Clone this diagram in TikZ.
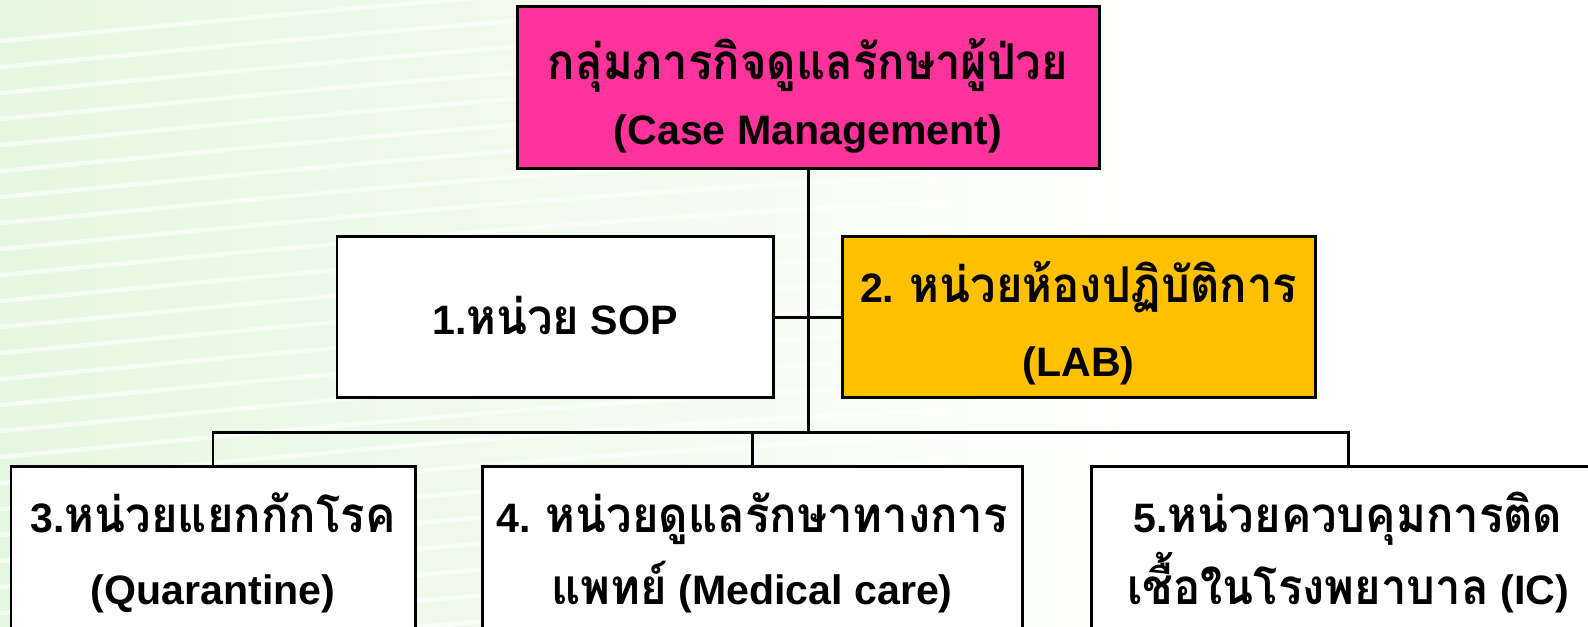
\documentclass[tikz,border=0pt]{standalone}
\usepackage{fontspec}
\setmainfont{Liberation Sans}
\newfontfamily\thai[Script=Thai,Scale=1.2,FakeStretch=0.92]{Loma}
\usepackage{tikz}
\usetikzlibrary{positioning}
\definecolor{casepink}{HTML}{FF3399}
\definecolor{labgold}{HTML}{FFC000}
\definecolor{bgA}{HTML}{D3F2CB}
\definecolor{bgB}{HTML}{E9F8E4}
\pgfdeclarehorizontalshading{bgshade}{100bp}{color(0bp)=(bgA); color(30bp)=(bgB); color(62bp)=(white); color(100bp)=(white)}
\newcommand\unitfont{\fontsize{11.7}{14}\selectfont\bfseries\lineskiplimit -50pt\relax}

\begin{document}
\begin{tikzpicture}[thick,
  unit/.style={draw=black, line width=0.85pt, align=center, inner sep=0pt, font=\unitfont},
  link/.style={draw=black, line width=0.85pt},
  streak/.style={white, line width=1.3pt, opacity=0.6}]
\useasboundingbox (0,0) rectangle (15.88,6.27);
\clip (0,0) rectangle (15.88,6.27);
%%%%% Background %%%%%
\shade[shading=bgshade] (0,0) rectangle (15.88,6.27);
\foreach \k in {0,...,24}{
\draw[streak] (-0.2,0.26*\k-0.4) .. controls (3,0.26*\k-0.1) and (6,0.26*\k+0.2) .. (9.5,0.26*\k+0.35);
}
%%%%% Boxes %%%%%
\node[unit, fill=casepink, minimum width=5.82cm, text height=1.38cm, text depth=0.24cm] (case) at (8.08,5.39)
  {{\thai กลุ่มภารกิจดูแลรักษาผู้ป่วย}\\[4.5pt] (Case Management)};
\node[unit, fill=white, minimum width=4.36cm, text height=0.98cm, text depth=0.63cm] (sop) at (5.55,3.095)
  {1.{\thai หน่วย} SOP};
\node[unit, fill=labgold, minimum width=4.73cm, text height=1.40cm, text depth=0.21cm] (lab) at (10.785,3.095)
  {2. {\thai หน่วยห้องปฏิบัติการ}\\[7.3pt] (LAB)};
\node[unit, fill=white, minimum width=4.04cm, text height=1.38cm, text depth=0.32cm] (quar) at (2.13,0.75)
  {3.{\thai หน่วยแยกกักโรค}\\[6.5pt] (Quarantine)};
\node[unit, fill=white, minimum width=5.40cm, text height=1.38cm, text depth=0.32cm] (med) at (7.52,0.75)
  {4. {\thai หน่วยดูแลรักษาทางการ}\\[6.5pt] {\thai แพทย์} (Medical care)};
\node[unit, fill=white, minimum width=5.14cm, text height=1.38cm, text depth=0.32cm] (ic) at (13.48,0.75)
  {5.{\thai หน่วยควบคุมการติด}\\[6.5pt] {\thai เชื้อในโรงพยาบาล} (IC)};
%%%%% Links %%%%%
\coordinate (bus) at (8.08,1.94);
\draw[link] (case.south) -- (bus);
\draw[link] (sop.east) -- (lab.west);
\draw[link] (quar.north) |- (bus) -| (ic.north);
\draw[link] (med.north) -- (med.north |- bus);
\end{tikzpicture}
\end{document}
